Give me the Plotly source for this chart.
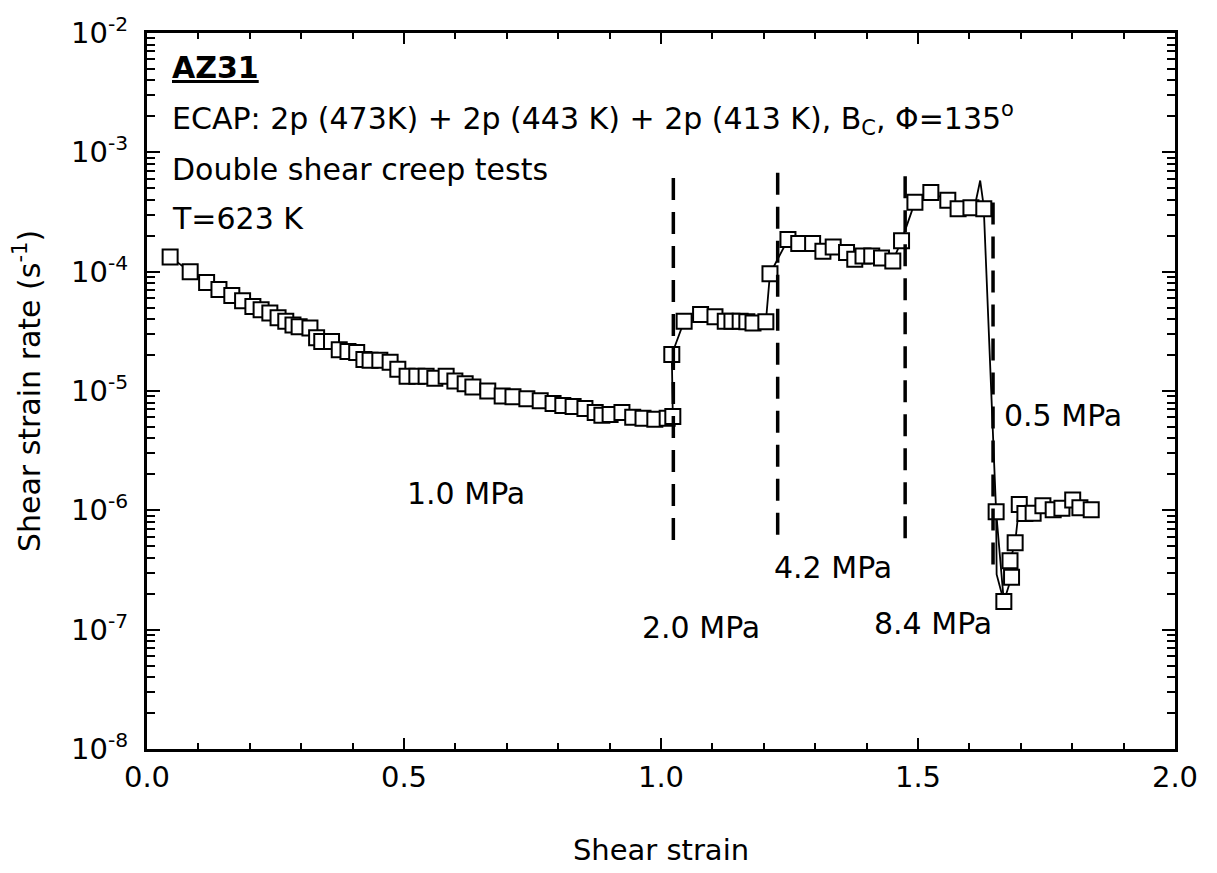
import plotly.graph_objects as go

# Measured points (shear strain, shear strain rate in 1/s)
strain = [0.045, 0.084, 0.116, 0.140, 0.165, 0.186, 0.206, 0.222, 0.239, 0.255,
          0.270, 0.284, 0.296, 0.317, 0.330, 0.340, 0.359, 0.374, 0.391, 0.408,
          0.422, 0.434, 0.453, 0.473, 0.488, 0.506, 0.525, 0.543, 0.560, 0.582,
          0.599, 0.619, 0.634, 0.663, 0.691, 0.712, 0.739, 0.765, 0.790, 0.809,
          0.829, 0.852, 0.872, 0.885, 0.901, 0.924, 0.945, 0.965, 0.988, 1.012,
          1.023,
          1.021, 1.045, 1.077, 1.105, 1.125, 1.138, 1.154, 1.167, 1.179, 1.204,
          1.212, 1.247, 1.268, 1.295, 1.315, 1.335, 1.361, 1.377, 1.393, 1.410,
          1.429, 1.451, 1.468,
          1.494, 1.525, 1.558, 1.578, 1.603, 1.628,
          1.652, 1.667, 1.682, 1.679, 1.689, 1.697, 1.708, 1.724, 1.743, 1.763,
          1.780, 1.801, 1.815, 1.837]
rate = [1.33e-4, 1.0e-4, 8.1e-5, 7.1e-5, 6.3e-5, 5.7e-5, 5.1e-5, 4.8e-5, 4.5e-5, 4.1e-5,
        3.85e-5, 3.57e-5, 3.46e-5, 3.37e-5, 2.79e-5, 2.60e-5, 2.60e-5, 2.22e-5, 2.14e-5, 2.10e-5,
        1.84e-5, 1.81e-5, 1.81e-5, 1.74e-5, 1.52e-5, 1.33e-5, 1.33e-5, 1.33e-5, 1.28e-5, 1.33e-5,
        1.21e-5, 1.15e-5, 1.08e-5, 1.00e-5, 9.1e-6, 8.95e-6, 8.6e-6, 8.3e-6, 7.85e-6, 7.56e-6,
        7.42e-6, 7.14e-6, 6.62e-6, 6.25e-6, 6.35e-6, 6.62e-6, 6.02e-6, 5.90e-6, 5.80e-6, 5.90e-6,
        6.12e-6,
        2.02e-5, 3.85e-5, 4.38e-5, 4.18e-5, 3.85e-5, 3.85e-5, 3.85e-5, 3.80e-5, 3.71e-5, 3.80e-5,
        9.6e-5, 1.86e-4, 1.72e-4, 1.72e-4, 1.48e-4, 1.61e-4, 1.45e-4, 1.27e-4, 1.35e-4, 1.35e-4,
        1.30e-4, 1.23e-4, 1.82e-4,
        3.82e-4, 4.61e-4, 3.97e-4, 3.36e-4, 3.43e-4, 3.36e-4,
        9.75e-7, 1.72e-7, 2.75e-7, 3.78e-7, 5.35e-7, 1.12e-6, 9.4e-7, 9.45e-7, 1.09e-6, 1.01e-6,
        1.04e-6, 1.22e-6, 1.05e-6, 1.01e-6]

# Extra curve vertices (line only, no markers)
spike_strain = [1.612, 1.621, 1.628]
spike_rate = [3.8e-4, 5.8e-4, 3.5e-4]
dip_strain = [1.652, 1.653, 1.667]
dip_rate = [9.75e-7, 2.9e-7, 1.72e-7]

# Stress-change markers (vertical dashed lines)
change_strain = [1.024, 1.227, 1.475, 1.646]
change_top = [6.1e-4, 6.75e-4, 6.3e-4, 3.8e-4]
change_bottom = [5.5e-7, 5.7e-7, 5.5e-7, 3.4e-7]

# Stress labels
stress_labels = ["1.0 MPa", "2.0 MPa", "4.2 MPa", "8.4 MPa", "0.5 MPa"]
stress_x = [0.502, 0.959, 1.216, 1.411, 1.663]
stress_logy = [-5.863, -6.982, -6.480, -6.949, -5.204]

header_lines = ["<b><u>AZ31</u></b>",
                "ECAP: 2p (473K) + 2p (443 K) + 2p (413 K), B<sub>C</sub>, \u03a6=135<sup>o</sup>",
                "Double shear creep tests",
                "T=623 K"]
header_logy = [-2.291, -2.718, -3.146, -3.558]

x_ticks = [0.0, 0.5, 1.0, 1.5, 2.0]
y_ticks = [1e-8, 1e-7, 1e-6, 1e-5, 1e-4, 1e-3, 1e-2]
y_ticktext = ["10<sup>-8</sup>", "10<sup>-7</sup>", "10<sup>-6</sup>", "10<sup>-5</sup>",
              "10<sup>-4</sup>", "10<sup>-3</sup>", "10<sup>-2</sup>"]

FONT = "DejaVu Sans"
fig = go.Figure()

fig.add_trace(go.Scatter(x=spike_strain, y=spike_rate, mode="lines",
                         line=dict(color="black", width=1.8), hoverinfo="skip", showlegend=False))
fig.add_trace(go.Scatter(x=dip_strain, y=dip_rate, mode="lines",
                         line=dict(color="black", width=1.8), hoverinfo="skip", showlegend=False))
fig.add_trace(go.Scatter(x=strain, y=rate, mode="lines+markers",
                         line=dict(color="black", width=1.8),
                         marker=dict(symbol="square", size=15, color="white",
                                     line=dict(color="black", width=2)),
                         showlegend=False))

for xs, yt, yb in zip(change_strain, change_top, change_bottom):
    fig.add_trace(go.Scatter(x=[xs, xs], y=[yt, yb], mode="lines",
                             line=dict(color="black", width=3.5, dash="22px,12px"),
                             hoverinfo="skip", showlegend=False))

for txt, ly in zip(header_lines, header_logy):
    fig.add_annotation(x=0.045, y=ly, xref="x", yref="y", text=txt, showarrow=False,
                       xanchor="left", yanchor="middle",
                       font=dict(family=FONT, size=30, color="black"))

for txt, xs, ly in zip(stress_labels, stress_x, stress_logy):
    fig.add_annotation(x=xs, y=ly, xref="x", yref="y", text=txt, showarrow=False,
                       xanchor="left", yanchor="middle",
                       font=dict(family=FONT, size=30, color="black"))

fig.update_xaxes(range=[0, 2], tickvals=x_ticks, ticktext=[f"{v:.1f}" for v in x_ticks],
                 ticks="inside", ticklen=11, tickwidth=2, tickcolor="black",
                 minor=dict(ticks="inside", dtick=0.1, ticklen=6, tickwidth=2, tickcolor="black"),
                 showline=True, linecolor="black", linewidth=3, mirror="allticks",
                 showgrid=False, zeroline=False,
                 tickfont=dict(family=FONT, size=29, color="black"),
                 title=dict(text="Shear strain", font=dict(family=FONT, size=29, color="black"),
                            standoff=47))
fig.update_yaxes(type="log", range=[-8, -2], tickvals=y_ticks, ticktext=y_ticktext,
                 ticks="inside", ticklen=13, tickwidth=2, tickcolor="black",
                 minor=dict(ticks="inside", dtick="D1", ticklen=8, tickwidth=2, tickcolor="black"),
                 showline=True, linecolor="black", linewidth=3, mirror="allticks",
                 showgrid=False, zeroline=False, ticklabelstandoff=10,
                 tickfont=dict(family=FONT, size=29, color="black"),
                 title=dict(text="Shear strain rate (s<sup>-1</sup>)",
                            font=dict(family=FONT, size=30, color="black"), standoff=22))

fig.update_layout(width=1217, height=873, margin=dict(l=147, r=42, t=23, b=121),
                  plot_bgcolor="white", paper_bgcolor="white",
                  font=dict(family=FONT, color="black"))

fig.write_html("out.html")
